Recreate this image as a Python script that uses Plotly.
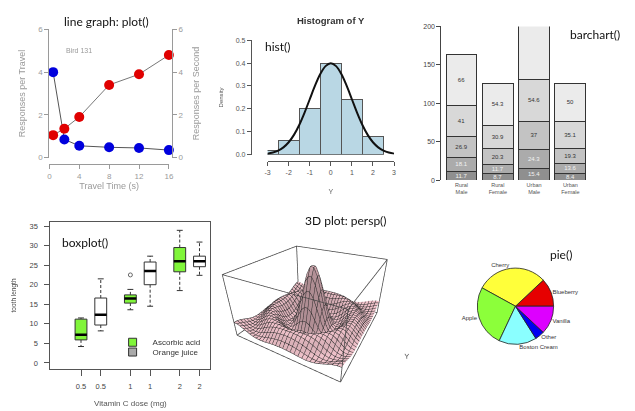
import numpy as np
import plotly.graph_objects as go

W, H = 635, 411
def fx(p): return p / W
def fy(p): return 1 - p / H

# ---------------- data ----------------
# line graph
travel_time = [0.5, 2, 4, 8, 12, 16]
resp_per_travel = [4.0, 0.85, 0.55, 0.48, 0.45, 0.35]
resp_per_second = [1.05, 1.35, 1.9, 3.4, 3.9, 4.8]

# histogram
hist_centers = [-3, -2, -1, 0, 1, 2]
hist_density = [0.02, 0.06, 0.20, 0.40, 0.24, 0.08]
hist_ticks = [-3, -2, -1, 0, 1, 2, 3]
hist_ticktext = ["-3", "-2", "-1", "0", "1", "2", "3"]
curve_x = [-3.5, -3.25, -3.0, -2.75, -2.5, -2.25, -2.0, -1.75, -1.5, -1.25, -1.0, -0.75, -0.5, -0.25,
           0.0, 0.25, 0.5, 0.75, 1.0, 1.25, 1.5, 1.75, 2.0, 2.25, 2.5, 2.75, 3.0, 3.25, 3.5]
curve_y = [0.0009, 0.0020, 0.0044, 0.0091, 0.0175, 0.0317, 0.0540, 0.0863, 0.1295, 0.1826, 0.2420,
           0.3011, 0.3521, 0.3867, 0.3989, 0.3867, 0.3521, 0.3011, 0.2420, 0.1826, 0.1295, 0.0863,
           0.0540, 0.0317, 0.0175, 0.0091, 0.0044, 0.0020, 0.0009]

# bar chart (stacked, bottom -> top)
bar_groups = ["Rural<br>Male", "Rural<br>Female", "Urban<br>Male", "Urban<br>Female"]
bar_layers = [
    [11.7, 8.7, 15.4, 8.4],
    [18.1, 11.7, 24.3, 13.6],
    [26.9, 20.3, 37.0, 19.3],
    [41.0, 30.9, 54.6, 35.1],
    [66.0, 54.3, 71.1, 50.0],
]
bar_colors = ["#8f8f8f", "#ababab", "#c3c3c3", "#d8d8d8", "#ebebeb"]
bar_text_colors = ["#f2f2f2", "#f2f2f2", "#333333", "#333333", "#333333"]

# boxplot
box_pos = [1, 2, 3.5, 4.5, 6, 7]
box_labels = ["0.5", "0.5", "1", "1", "2", "2"]
box_supp = ["VC", "OJ", "VC", "OJ", "VC", "OJ"]
box_low = [4.2, 8.2, 13.6, 14.5, 18.5, 22.4]
box_q1 = [5.9, 9.7, 15.3, 20.0, 23.3, 24.6]
box_med = [7.2, 12.3, 16.5, 23.5, 26.0, 26.0]
box_q3 = [11.2, 16.6, 17.4, 25.8, 29.5, 27.3]
box_high = [11.5, 21.5, 18.8, 27.3, 33.9, 30.9]
box_out_x = [3.5]
box_out_y = [22.5]

# persp (radial profile of the surface)
persp_r = [0, 0.5, 1, 1.5, 2, 2.5, 3, 3.5, 4, 4.5, 5, 5.5, 6, 6.5, 7, 7.5, 8, 8.5, 9, 9.5,
           10, 10.5, 11, 11.5, 12, 12.5, 13, 13.5, 14, 14.5]
persp_z = [10.0, 9.589, 8.415, 6.650, 4.546, 2.394, 0.470, -1.002, -1.892, -2.172, -1.918, -1.283,
           -0.466, 0.331, 0.939, 1.251, 1.237, 0.939, 0.458, -0.079, -0.544, -0.838, -0.909, -0.761,
           -0.447, -0.053, 0.323, 0.595, 0.708, 0.645]
persp_grid_n = 30

# pie
pie_labels = ["Blueberry", "Cherry", "Apple", "Boston Cream", "Other", "Vanilla"]
pie_values = [0.12, 0.30, 0.26, 0.16, 0.04, 0.12]
pie_colors = ["#e60000", "#ffff3a", "#8cff3a", "#8affff", "#0000f0", "#dd00ff"]

RF = "Liberation Sans"
TF = "Lato"
fig = go.Figure()

# ---------------- line graph ----------------
fig.add_trace(go.Scatter(x=travel_time, y=resp_per_travel, mode="lines+markers",
                         line=dict(color="#555555", width=1),
                         marker=dict(color="#0000dd", size=10), cliponaxis=False,
                         xaxis="x", yaxis="y", showlegend=False))
fig.add_trace(go.Scatter(x=travel_time, y=resp_per_second, mode="lines+markers",
                         line=dict(color="#777777", width=1),
                         marker=dict(color="#e00000", size=10), cliponaxis=False,
                         xaxis="x", yaxis="y2", showlegend=False))

# ---------------- histogram ----------------
fig.add_trace(go.Bar(x=hist_centers, y=hist_density, width=1, marker=dict(color="#b9d7e4",
                     line=dict(color="#555555", width=1)), cliponaxis=False,
                     xaxis="x2", yaxis="y3", showlegend=False))
fig.add_trace(go.Scatter(x=curve_x, y=curve_y, mode="lines", line=dict(color="#111111", width=2, shape="spline"),
                         cliponaxis=False, xaxis="x2", yaxis="y3", showlegend=False))

# ---------------- bar chart ----------------
for vals, col, tcol in zip(bar_layers, bar_colors, bar_text_colors):
    fig.add_trace(go.Bar(x=list(range(len(bar_groups))), y=vals, width=0.85,
                         marker=dict(color=col, line=dict(color="#333333", width=1)),
                         text=[f"{v:g}" for v in vals], textposition="inside",
                         insidetextanchor="middle", textangle=0, constraintext="none",
                         textfont=dict(size=6, color=tcol, family=RF), cliponaxis=False,
                         xaxis="x3", yaxis="y4", showlegend=False))

# ---------------- boxplot ----------------
hw = 0.3
for i, p in enumerate(box_pos):
    fill = "#80f53a" if box_supp[i] == "VC" else "#ffffff"
    fig.add_trace(go.Scatter(x=[p, p, None, p, p], y=[box_q3[i], box_high[i], None, box_q1[i], box_low[i]],
                             mode="lines", line=dict(color="#333333", width=1, dash="3px,2px"),
                             xaxis="x4", yaxis="y5", showlegend=False))
    fig.add_trace(go.Scatter(x=[p - hw / 2, p + hw / 2, None, p - hw / 2, p + hw / 2],
                             y=[box_high[i], box_high[i], None, box_low[i], box_low[i]],
                             mode="lines", line=dict(color="#333333", width=1),
                             xaxis="x4", yaxis="y5", showlegend=False))
    fig.add_trace(go.Scatter(x=[p - hw, p + hw, p + hw, p - hw, p - hw],
                             y=[box_q1[i], box_q1[i], box_q3[i], box_q3[i], box_q1[i]],
                             mode="lines", fill="toself", fillcolor=fill,
                             line=dict(color="#333333", width=1),
                             xaxis="x4", yaxis="y5", showlegend=False))
    fig.add_trace(go.Scatter(x=[p - hw, p + hw], y=[box_med[i], box_med[i]], mode="lines",
                             line=dict(color="#000000", width=2.5),
                             xaxis="x4", yaxis="y5", showlegend=False))
fig.add_trace(go.Scatter(x=box_out_x, y=box_out_y, mode="markers",
                         marker=dict(symbol="circle-open", size=4, color="#666666"),
                         xaxis="x4", yaxis="y5", showlegend=False))
fig.add_trace(go.Scatter(x=[None], y=[None], mode="markers", name="Ascorbic acid",
                         marker=dict(symbol="square", size=8, color="#80f53a", line=dict(color="#333", width=1)),
                         xaxis="x4", yaxis="y5", legend="legend"))
fig.add_trace(go.Scatter(x=[None], y=[None], mode="markers", name="Orange juice",
                         marker=dict(symbol="square", size=8, color="#aaaaaa", line=dict(color="#333", width=1)),
                         xaxis="x4", yaxis="y5", legend="legend2"))

# ---------------- persp ----------------
g = np.linspace(-10, 10, persp_grid_n)
GX, GY = np.meshgrid(g, g)
Z = np.interp(np.sqrt(GX ** 2 + GY ** 2), persp_r, persp_z)
pink = "#e9bcc4"
step = 20 / (persp_grid_n - 1)
fig.add_trace(go.Surface(x=g, y=g, z=Z, colorscale=[[0, pink], [1, pink]], showscale=False,
                         lighting=dict(ambient=0.75, diffuse=0.35, specular=0.05, roughness=0.9),
                         contours=dict(
                             x=dict(show=True, start=-10, end=10, size=step, color="#2a2a2a", width=1, highlight=False),
                             y=dict(show=True, start=-10, end=10, size=step, color="#2a2a2a", width=1, highlight=False),
                             z=dict(highlight=False)),
                         hoverinfo="skip", scene="scene"))
zmin, zmax = float(Z.min()), float(Z.max())
bx, by, bz = [], [], []
for (x0, y0, z0, x1, y1, z1) in [
    (-10, -10, zmin, 10, -10, zmin), (10, -10, zmin, 10, 10, zmin), (10, 10, zmin, -10, 10, zmin), (-10, 10, zmin, -10, -10, zmin),
    (-10, -10, zmax, 10, -10, zmax), (10, -10, zmax, 10, 10, zmax), (10, 10, zmax, -10, 10, zmax), (-10, 10, zmax, -10, -10, zmax),
    (-10, -10, zmin, -10, -10, zmax), (10, -10, zmin, 10, -10, zmax), (10, 10, zmin, 10, 10, zmax), (-10, 10, zmin, -10, 10, zmax)]:
    bx += [x0, x1, None]; by += [y0, y1, None]; bz += [z0, z1, None]
fig.add_trace(go.Scatter3d(x=bx, y=by, z=bz, mode="lines", line=dict(color="#444444", width=1.5),
                           hoverinfo="skip", showlegend=False, scene="scene"))

# ---------------- pie ----------------
fig.add_trace(go.Pie(labels=pie_labels, values=pie_values, sort=False, direction="counterclockwise",
                     rotation=46.8, marker=dict(colors=pie_colors, line=dict(color="#222222", width=0.8)),
                     textinfo="label", textposition="outside", textfont=dict(size=6, family=RF, color="#333"),
                     domain=dict(x=[fx(480), fx(558)], y=[fy(348), fy(270)]), showlegend=False,
                     hoverinfo="skip"))

# ---------------- layout ----------------
gray = "#9a9a9a"
def ax(**kw):
    d = dict(showgrid=False, zeroline=False, ticks="outside", ticklen=4, tickwidth=1, showline=True,
             linewidth=1)
    d.update(kw)
    return d

scene_axis = dict(showgrid=False, showbackground=False, showticklabels=False, showline=False,
                  zeroline=False, showspikes=False, ticks="")

fig.update_layout(
    width=W, height=H, margin=dict(l=0, r=0, t=0, b=0), paper_bgcolor="white", plot_bgcolor="rgba(0,0,0,0)",
    barmode="stack", font=dict(family=RF),
    # line graph
    xaxis=ax(domain=[fx(47), fx(168)], range=[0, 16], tickvals=[0, 4, 8, 12, 16], anchor="free",
             position=fy(164), linecolor=gray, tickcolor=gray, tickfont=dict(size=8, color=gray),
             title=dict(text="Travel Time (s)", font=dict(size=9, color=gray), standoff=2)),
    yaxis=ax(domain=[fy(157), fy(26)], range=[0, 6], tickvals=[0, 2, 4, 6], anchor="free", position=fx(46),
             linecolor=gray, tickcolor=gray, tickfont=dict(size=8, color=gray),
             title=dict(text="Responses per Travel", font=dict(size=9, color=gray), standoff=10)),
    yaxis2=ax(overlaying="y", side="right", range=[0, 6], tickvals=[0, 2, 4, 6], anchor="free",
              position=fx(171), linecolor=gray, tickcolor=gray, tickfont=dict(size=8, color=gray),
              title=dict(text="Responses per Second", font=dict(size=9, color=gray), standoff=10)),
    # histogram
    xaxis2=ax(domain=[fx(268), fx(396)], range=[-3, 3], tickvals=hist_ticks, ticktext=hist_ticktext,
              anchor="free", position=fy(161), linecolor="#555", tickcolor="#555",
              tickfont=dict(size=7, color="#555"),
              title=dict(text="Y", font=dict(size=7, color="#666"), standoff=14)),
    yaxis3=ax(domain=[fy(154), fy(37)], range=[0, 0.5], tickvals=[0, 0.1, 0.2, 0.3, 0.4, 0.5],
              tickformat=".1f", anchor="free", position=fx(251), linecolor="#555", tickcolor="#555",
              tickfont=dict(size=7, color="#555"),
              title=dict(text="Density", font=dict(size=6, color="#555"), standoff=10)),
    # bar chart
    xaxis3=dict(domain=[fx(446), fx(593)], range=[-0.5, 3.5], tickvals=[0, 1, 2, 3], ticktext=bar_groups,
                showline=False, showgrid=False, zeroline=False, ticks="", anchor="y4",
                tickfont=dict(size=5.5, color="#555")),
    yaxis4=ax(domain=[fy(180), fy(23)], range=[0, 200], tickvals=[0, 50, 100, 150, 200], anchor="free",
              position=fx(443), linecolor="#444", tickcolor="#444", tickfont=dict(size=7, color="#444")),
    # boxplot
    xaxis4=ax(domain=[fx(48), fx(210)], range=[-0.55, 7.55], tickvals=box_pos, ticktext=box_labels,
              anchor="y5", mirror=True, ticklen=6, linecolor="#555", tickcolor="#555",
              tickfont=dict(size=7.5, color="#444"), ticklabelstandoff=4,
              title=dict(text="Vitamin C dose (mg)", font=dict(size=8, color="#555"), standoff=10)),
    yaxis5=ax(domain=[fy(373), fy(223)], range=[-1.5, 36], tickvals=[0, 5, 10, 15, 20, 25, 30, 35],
              anchor="x4", mirror=True, ticklen=5, linecolor="#555", tickcolor="#555",
              tickfont=dict(size=7.5, color="#444"), ticklabelstandoff=5,
              title=dict(text="tooth length", font=dict(size=6.5, color="#444"), standoff=12)),
    legend=dict(x=fx(111), y=fy(331), xanchor="left", yanchor="top", bgcolor="rgba(0,0,0,0)",
                font=dict(size=8, color="#333"), itemclick=False),
    legend2=dict(x=fx(111), y=fy(341), xanchor="left", yanchor="top", bgcolor="rgba(0,0,0,0)",
                 font=dict(size=8, color="#333"), itemclick=False),
    scene=dict(domain=dict(x=[fx(216), fx(412)], y=[fy(388), fy(222)]),
               xaxis=dict(scene_axis, title=dict(text="X", font=dict(size=7, color="#333"))),
               yaxis=dict(scene_axis, title=dict(text="Y", font=dict(size=7, color="#333"))),
               zaxis=dict(scene_axis, title=dict(text="Z", font=dict(size=7, color="#333"))),
               aspectmode="manual", aspectratio=dict(x=1, y=1, z=0.58),
               camera=dict(eye=dict(x=0.73, y=-1.28, z=0.79), center=dict(x=0, y=0, z=-0.05))),
)

# titles / labels
ann = [
    ("line graph: plot()", 105, 18, 12, TF, "#111", False),
    ("Bird 131", 77, 48, 7, RF, gray, False),
    ("Histogram of Y", 332, 17, 9.5, RF, "#333", True),
    ("hist()", 278, 43, 12, TF, "#111", False),
    ("barchart()", 600, 31, 12, TF, "#111", False),
    ("boxplot()", 83, 244, 12, TF, "#111", False),
    ("3D plot: persp()", 347, 221, 12, TF, "#111", False),
    ("pie()", 565, 256, 12, TF, "#111", False),
]
for t, x, y, s, fam, col, bold in ann:
    fig.add_annotation(text=f"<b>{t}</b>" if bold else t, x=fx(x), y=fy(y), xref="paper", yref="paper",
                       showarrow=False, font=dict(size=s, family=fam, color=col), xanchor="center", yanchor="middle")

fig.write_html("out.html")
